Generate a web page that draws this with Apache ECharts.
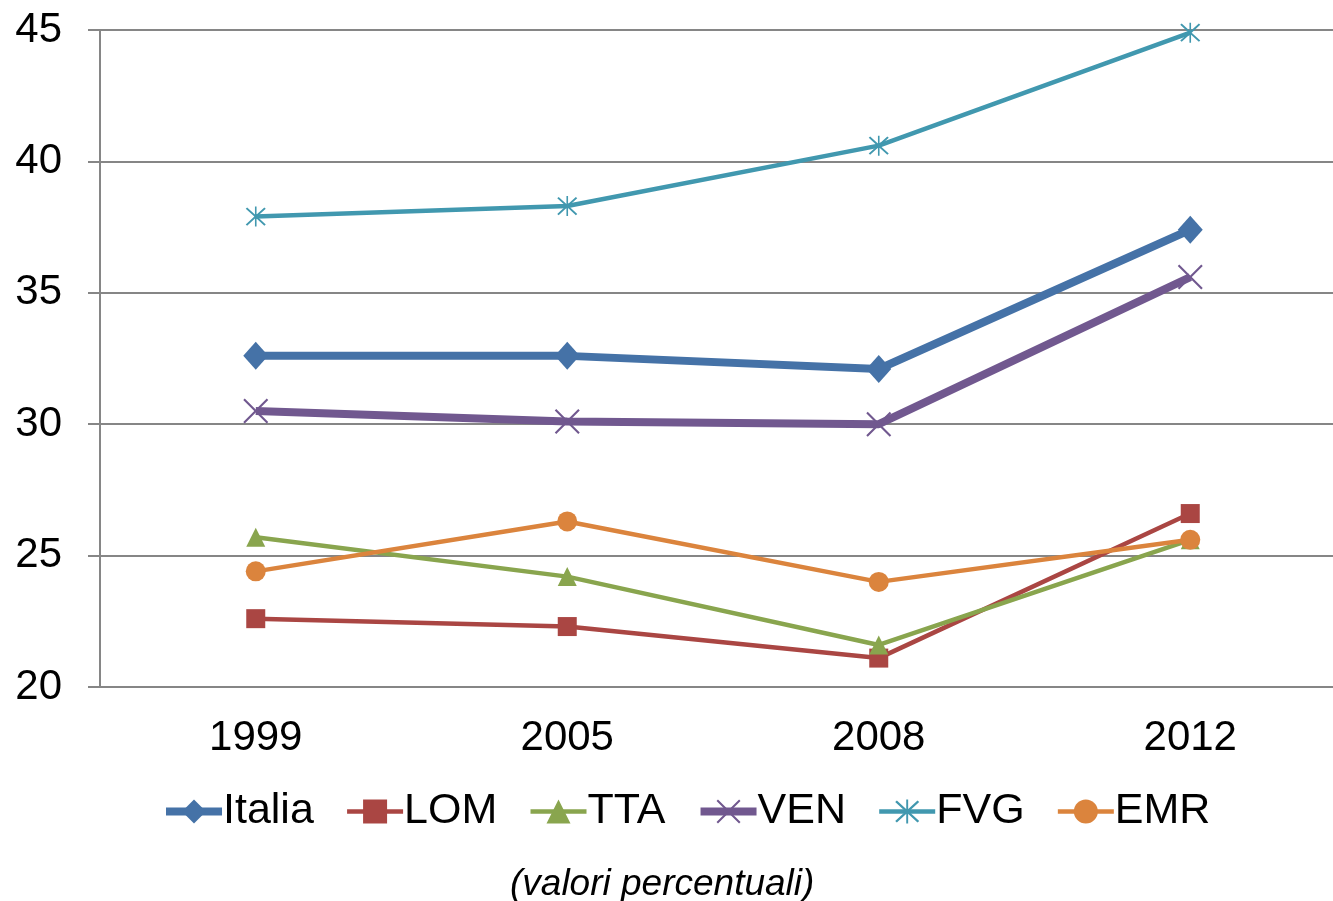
<!DOCTYPE html>
<html><head><meta charset="utf-8">
<script src="https://cdn.jsdelivr.net/npm/echarts@6/dist/echarts.min.js"></script>
<style>html,body{margin:0;padding:0;background:#fff;overflow:hidden}#c{width:1346px;height:901px}</style>
</head><body><div id="c"></div>
<script>
const categories = ['1999', '2005', '2008', '2012'];
const italia = [32.6, 32.6, 32.1, 37.4];
const lom = [22.6, 22.3, 21.1, 26.6];
const tta = [25.7, 24.2, 21.6, 25.6];
const ven = [30.5, 30.1, 30.0, 35.6];
const fvg = [37.9, 38.3, 40.6, 44.9];
const emr = [24.4, 26.3, 24.0, 25.6];
const yTicks = [20, 25, 30, 35, 40, 45];

const xPath = 'path://M0,1.2L1.2,0L10,8.8L18.8,0L20,1.2L11.2,10L20,18.8L18.8,20L10,11.2L1.2,20L0,18.8L8.8,10Z';
const starPath = 'path://M0,1.4L1.4,0L10,8.6L18.6,0L20,1.4L11.4,10L20,18.6L18.6,20L10,11.4L1.4,20L0,18.6L8.6,10Z M9.2,-1L10.8,-1L10.8,21L9.2,21Z';
const FONT = 'Liberation Sans, Arial, sans-serif';

function mk(name, data, color, width, symbol, size) {
  return {
    name, type: 'line', data, symbol, symbolSize: size,
    lineStyle: { color, width }, itemStyle: { color },
    z: 2, animation: false
  };
}

const chart = echarts.init(document.getElementById('c'));
chart.setOption({
  animation: false,
  textStyle: { fontFamily: FONT },
  grid: { left: 100, top: 30, right: 0, bottom: 214, containLabel: false },
  title: {
    text: '(valori percentuali)', left: 505, top: 861,
    textStyle: { fontFamily: FONT, fontSize: 37, fontStyle: 'italic', fontWeight: 'normal', color: '#000' }
  },
  legend: {
    top: 785, left: 157, itemWidth: 56, itemHeight: 30, itemGap: 31,
    lineStyle: { width: 'inherit' },
    textStyle: { fontFamily: FONT, fontSize: 43, color: '#000', padding: [0, 0, 0, -4] },
    data: ['Italia', 'LOM', 'TTA', 'VEN', 'FVG', 'EMR']
  },
  xAxis: {
    type: 'category', data: categories, boundaryGap: true,
    axisLine: { lineStyle: { color: '#868686', width: 2 } },
    axisTick: { length: 12, lineStyle: { color: '#868686', width: 2 } },
    axisLabel: { fontFamily: FONT, fontSize: 42, color: '#000', margin: 30 }
  },
  yAxis: {
    type: 'value', min: 20, max: 45, interval: 5,
    axisLine: { show: true, lineStyle: { color: '#868686', width: 2 } },
    axisTick: { show: true, length: 12, lineStyle: { color: '#868686', width: 2 } },
    splitLine: { lineStyle: { color: '#868686', width: 2 } },
    axisLabel: { fontFamily: FONT, fontSize: 42, color: '#000', margin: 38,
      formatter: v => yTicks.includes(v) ? String(v) : '' }
  },
  series: [
    mk('Italia', italia, '#4572A7', 8, 'diamond', [25, 28]),
    mk('LOM', lom, '#AA4643', 4.5, 'rect', 19),
    mk('TTA', tta, '#89A54E', 4.5, 'triangle', 19),
    mk('VEN', ven, '#71588F', 8, xPath, 25),
    mk('FVG', fvg, '#4198AF', 4.5, starPath, 20),
    mk('EMR', emr, '#DB843D', 4.5, 'circle', 20)
  ]
});
</script></body></html>
